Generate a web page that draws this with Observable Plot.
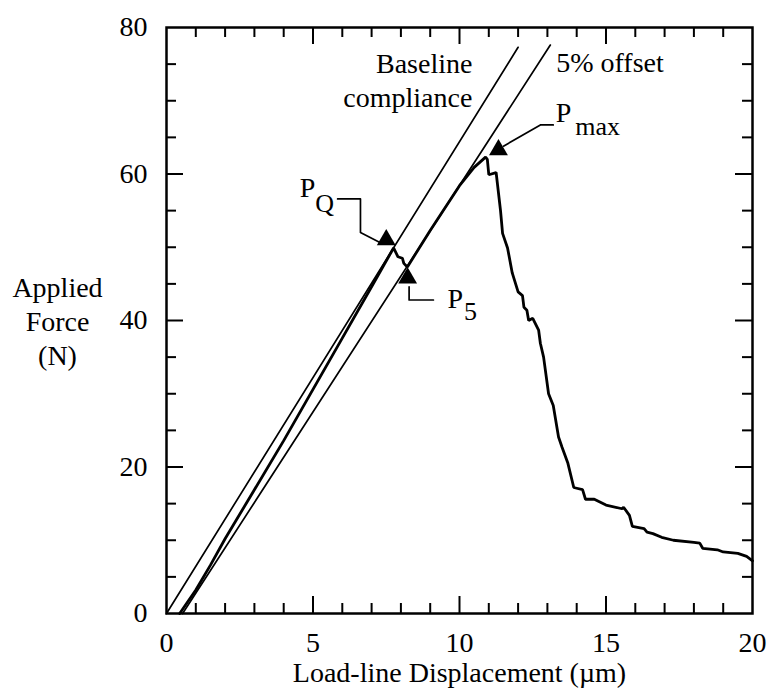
<!DOCTYPE html>
<html>
<head>
<meta charset="utf-8">
<script src="https://cdn.jsdelivr.net/npm/d3@7"></script>
<script src="https://cdn.jsdelivr.net/npm/@observablehq/plot@0.6"></script>
<style>
  html, body { margin: 0; padding: 0; background: #fff; }
  #chart { width: 769px; height: 692px; }
</style>
</head>
<body>
<div id="chart"></div>
<script>
// Measured load–displacement record
const dispX  = [0.45, 1.0, 1.5, 2.0, 3.0, 4.0, 5.0, 6.0, 7.0, 7.75, 7.9, 8.05, 8.1, 8.22, 9.0, 10.0, 10.5, 10.89,
                10.95, 11.0, 11.25, 11.4, 11.47, 11.64, 11.8, 12.0, 12.15, 12.2, 12.3, 12.36, 12.5, 12.7, 12.76, 12.87,
                13.04, 13.2, 13.38, 13.5, 13.7, 13.9, 14.0, 14.2, 14.3, 14.6, 15.0, 15.55, 15.6, 15.8, 15.9, 16.3,
                16.4, 16.6, 16.9, 17.3, 18.0, 18.2, 18.3, 18.8, 19.0, 19.5, 19.8, 20.0];
const forceY = [0, 3.2, 6.6, 10.2, 16.9, 23.6, 30.6, 37.6, 44.6, 49.9, 48.7, 48.5, 47.8, 47.3, 52.3, 58.4, 60.9, 62.3,
                62.0, 59.9, 60.2, 55.0, 51.9, 49.9, 46.5, 43.9, 43.4, 41.8, 41.4, 40.0, 40.3, 38.7, 36.9, 35.0,
                30.0, 28.4, 24.1, 22.7, 20.5, 17.2, 17.1, 16.9, 15.6, 15.6, 14.8, 14.3, 14.5, 13.4, 11.9, 11.6,
                11.1, 10.9, 10.4, 10.0, 9.7, 9.6, 8.9, 8.7, 8.4, 8.2, 7.8, 7.2];

// Construction lines
const baselineX = [0, 12.0];
const baselineY = [0, 77.3];
const offsetX = [0.55, 13.1];
const offsetY = [0, 77.6];

// Marked points (triangles)
const markerX = [7.5, 8.23, 11.33];
const markerY = [51.0, 45.8, 63.3];

// Leader lines
const leaderQX = [5.84, 6.62, 6.62, 7.3];
const leaderQY = [56.6, 56.6, 52.0, 50.6];
const leader5X = [8.28, 8.28, 9.11];
const leader5Y = [44.6, 42.8, 42.8];
const leaderMaxX = [13.2, 12.76, 11.5];
const leaderMaxY = [66.7, 66.7, 63.8];

// Point labels
const labelMain = ["P", "P", "P"];
const labelMainX = [4.81, 9.86, 13.55];
const labelMainY = [58.1, 42.9, 68.3];
const labelSub = ["Q", "5", "max"];
const labelSubX = [5.08, 10.15, 13.95];
const labelSubY = [55.9, 41.2, 66.5];

// Axis ticks
const xTickLabels = [0, 5, 10, 15, 20];
const yTickLabels = [0, 20, 40, 60, 80];
const xMinor = [1, 2, 3, 4, 6, 7, 8, 9, 11, 12, 13, 14, 16, 17, 18, 19];
const xMajor = [5, 10, 15];
const yMinor = [5, 10, 15, 25, 30, 35, 45, 50, 55, 65, 70, 75];
const yMajor = [20, 40, 60];

const W = 769, H = 692;
const mL = 166, mR = 17, mT = 27, mB = 79;
const fw = W - mL - mR, fh = H - mT - mB;
const minorLen = 10, majorLen = 17;

const data = dispX.map((x, i) => ({x, y: forceY[i]}));
const base = baselineX.map((x, i) => ({x, y: baselineY[i]}));
const off = offsetX.map((x, i) => ({x, y: offsetY[i]}));
const markers = markerX.map((x, i) => ({x, y: markerY[i]}));
const toPts = (xs, ys) => xs.map((x, i) => ({x, y: ys[i]}));
const mains = labelMain.map((t, i) => ({t, x: labelMainX[i], y: labelMainY[i]}));
const subs = labelSub.map((t, i) => ({t, x: labelSubX[i], y: labelSubY[i]}));

const serif = "Liberation Serif, Times New Roman, serif";

const plot = Plot.plot({
  width: W, height: H,
  marginLeft: mL, marginRight: mR, marginTop: mT, marginBottom: mB,
  x: {domain: [0, 20]},
  y: {domain: [0, 80]},
  style: {fontFamily: serif, fontSize: "28px", color: "#000", background: "#fff"},
  marks: [
    // inward ticks on all four sides
    Plot.ruleX(xMinor, {x: d => d, insetTop: fh - minorLen, stroke: "#000", strokeWidth: 2}),
    Plot.ruleX(xMajor, {x: d => d, insetTop: fh - majorLen, stroke: "#000", strokeWidth: 2}),
    Plot.ruleX(xMinor, {x: d => d, insetBottom: fh - minorLen, stroke: "#000", strokeWidth: 2}),
    Plot.ruleX(xMajor, {x: d => d, insetBottom: fh - majorLen, stroke: "#000", strokeWidth: 2}),
    Plot.ruleY(yMinor, {y: d => d, insetRight: fw - minorLen, stroke: "#000", strokeWidth: 2}),
    Plot.ruleY(yMajor, {y: d => d, insetRight: fw - majorLen, stroke: "#000", strokeWidth: 2}),
    Plot.ruleY(yMinor, {y: d => d, insetLeft: fw - minorLen, stroke: "#000", strokeWidth: 2}),
    Plot.ruleY(yMajor, {y: d => d, insetLeft: fw - majorLen, stroke: "#000", strokeWidth: 2}),
    Plot.frame({stroke: "#000", strokeWidth: 2.5}),
    Plot.axisX({ticks: xTickLabels, tickSize: 0, tickPadding: 19, label: null, fontSize: 28, fontFamily: serif}),
    Plot.axisY({ticks: yTickLabels, tickSize: 0, tickPadding: 19, label: null, fontSize: 28, fontFamily: serif}),
    // construction lines
    Plot.line(base, {x: "x", y: "y", stroke: "#000", strokeWidth: 1.7}),
    Plot.line(off, {x: "x", y: "y", stroke: "#000", strokeWidth: 1.7}),
    // data
    Plot.line(data, {x: "x", y: "y", stroke: "#000", strokeWidth: 2.8, strokeLinejoin: "miter"}),
    // leaders
    Plot.line(toPts(leaderQX, leaderQY), {x: "x", y: "y", stroke: "#000", strokeWidth: 1.7}),
    Plot.line(toPts(leader5X, leader5Y), {x: "x", y: "y", stroke: "#000", strokeWidth: 1.7}),
    Plot.line(toPts(leaderMaxX, leaderMaxY), {x: "x", y: "y", stroke: "#000", strokeWidth: 1.7}),
    Plot.dot(markers, {x: "x", y: "y", symbol: "triangle", r: 7, fill: "#000", stroke: "none"}),
    // labels
    Plot.text(mains, {x: "x", y: "y", text: "t", fontSize: 28, fontFamily: serif, fill: "#000"}),
    Plot.text(subs, {x: "x", y: "y", text: "t", fontSize: 26, fontFamily: serif, fill: "#000", textAnchor: "start"}),
    Plot.text(["Baseline\ncompliance"], {x: 10.44, y: 72.9, textAnchor: "end", lineHeight: 1.2, fontSize: 28, fontFamily: serif, fill: "#000"}),
    Plot.text(["5% offset"], {x: 13.3, y: 75.2, textAnchor: "start", fontSize: 28, fontFamily: serif, fill: "#000"}),
    Plot.text(["Applied\nForce\n(N)"], {y: 40, frameAnchor: "left", dx: -109, lineHeight: 1.21, textAnchor: "middle", fontSize: 28, fontFamily: serif, fill: "#000"}),
    Plot.text(["Load-line Displacement (µm)"], {frameAnchor: "bottom", dy: 68, fontSize: 28, fontFamily: serif, fill: "#000"})
  ]
});
document.getElementById("chart").appendChild(plot);
</script>
</body>
</html>
